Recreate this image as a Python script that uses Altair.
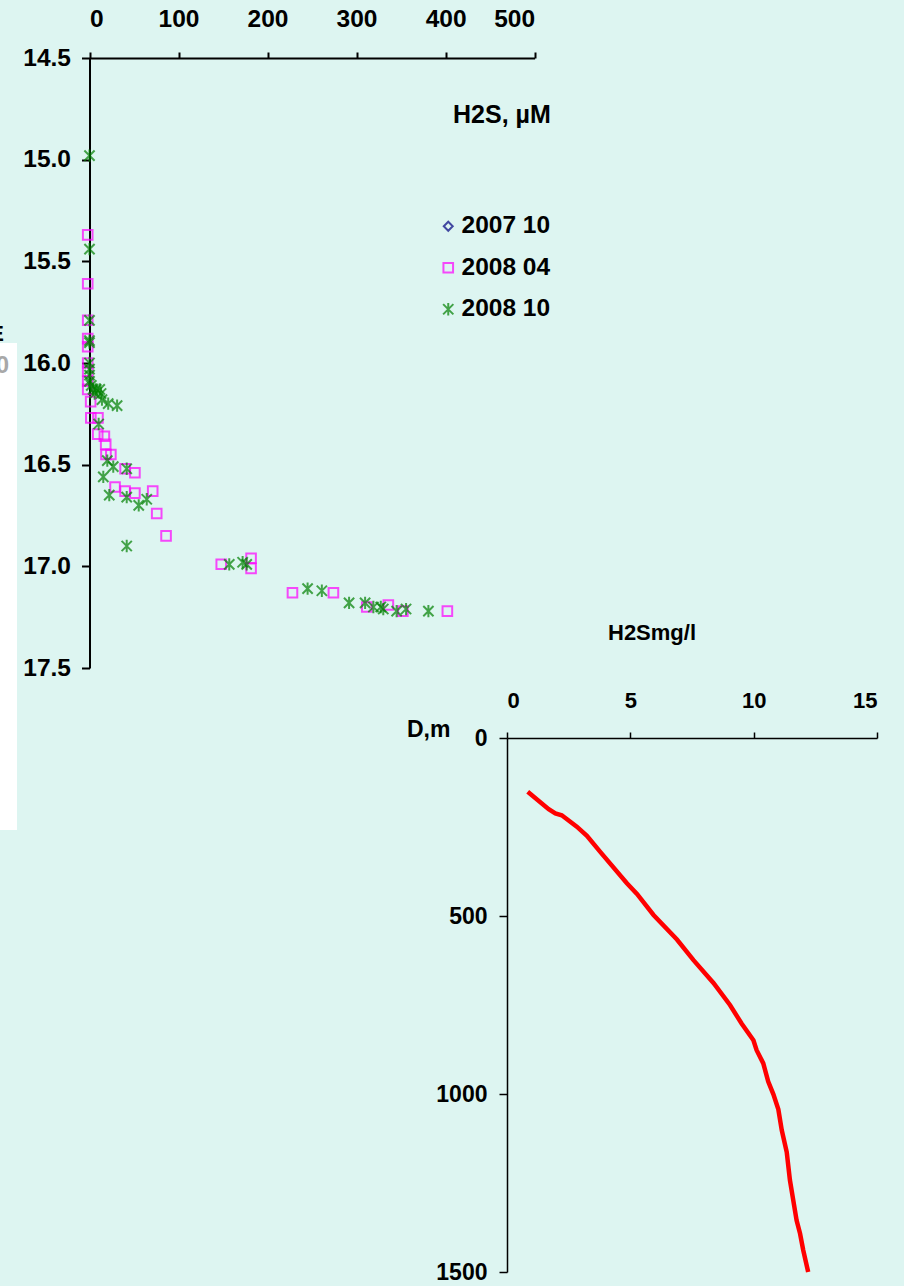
import altair as alt
import pandas as pd

# Legend series, colours, marker shapes and marker sizes
series_names = ["2007 10", "2008 04", "2008 10"]
series_colors = ["#000080", "#FF00FF", "#008000"]
ASTERISK = "M-1,-1L1,1M-1,1L1,-1M0,-1.2L0,1.2"
series_shapes = ["diamond", "square", ASTERISK]
series_sizes = [80, 105, 125]

# H2S (uM) against sigma-t style density, April 2008 cruise
h2s_0804 = [-2, -2, -2, -2, -2, -2, -2, -2, -2, 1.3, 1.5, 9.5, 9.2, 16.7, 18.2, 18.5,
            24, 40, 51, 28.7, 40, 51, 71, 75.5, 86, 148, 181.5, 181.5, 228, 274,
            311.5, 335.7, 352, 402]
dens_0804 = [15.37, 15.61, 15.79, 15.88, 15.92, 16.00, 16.04, 16.09, 16.13, 16.19,
             16.27, 16.27, 16.35, 16.36, 16.40, 16.45, 16.45, 16.52, 16.54, 16.61,
             16.63, 16.64, 16.63, 16.74, 16.85, 16.99, 16.96, 17.01, 17.13, 17.13,
             17.20, 17.19, 17.22, 17.22]

# October 2008 cruise
h2s_0810 = [0, 0, 0, 0, 0, 0, 0, 0, 0, 2, 4, 7.6, 11.5, 13, 5.8, 14, 21, 31, 10.3,
            20, 26.7, 41.8, 15.5, 22.2, 41.8, 64.3, 55.3, 41.8, 157, 172, 176.6,
            245, 261, 291.6, 309.6, 318.9, 327.2, 330, 345, 355.6, 380.7]
dens_0810 = [14.98, 15.44, 15.79, 15.89, 15.90, 16.00, 16.03, 16.06, 16.09, 16.11,
             16.13, 16.13, 16.13, 16.15, 16.15, 16.18, 16.20, 16.21, 16.30,
             16.48, 16.51, 16.52, 16.56, 16.65, 16.66, 16.67, 16.70, 16.90, 16.99,
             16.98, 16.99, 17.11, 17.12, 17.18, 17.18, 17.20, 17.20, 17.21, 17.22,
             17.21, 17.22]

# H2S (mg/l) depth profile
h2s_mgl = [0.84, 1.69, 1.96, 2.22, 2.83, 3.24, 3.78, 4.86, 5.27, 5.94, 6.89, 7.56,
           8.37, 9.04, 9.51, 9.99, 10.12, 10.39, 10.59, 10.80, 11.00, 11.14, 11.34,
           11.47, 11.74, 11.88, 12.01, 12.21]
depth_m = [151, 200, 212, 217, 249, 275, 320, 408, 438, 497, 566, 624, 688, 750, 802,
           849, 877, 914, 965, 1001, 1043, 1102, 1163, 1242, 1355, 1392, 1439, 1500]

scatter_df = pd.concat([
    pd.DataFrame({"h2s": h2s_0804, "dens": dens_0804, "series": "2008 04"}),
    pd.DataFrame({"h2s": h2s_0810, "dens": dens_0810, "series": "2008 10"}),
])
profile_df = pd.DataFrame({"mgl": h2s_mgl, "depth": depth_m})

FONT = "Liberation Sans, Arial, sans-serif"
W, H = 904, 1286

label_style = dict(labelFont=FONT, labelFontWeight="bold", labelColor="black",
                   domainColor="black", tickColor="black", grid=False, title=None)

scatter = alt.Chart(scatter_df).mark_point(filled=False, strokeWidth=2).encode(
    x=alt.X("h2s:Q",
            scale=alt.Scale(domain=[0, 500], range=[89.5, 534.6], nice=False, zero=False),
            axis=alt.Axis(orient="top", offset=-58, values=[0, 100, 200, 300, 400, 500],
                          format="d", labelFontSize=24.5, tickSize=6, labelPadding=21,
                          domainWidth=2, tickWidth=2, **label_style)),
    y=alt.Y("dens:Q",
            scale=alt.Scale(domain=[14.5, 17.5], range=[58, 668], nice=False, zero=False),
            axis=alt.Axis(orient="left", offset=-89.5,
                          values=[14.5, 15.0, 15.5, 16.0, 16.5, 17.0, 17.5],
                          format=".1f", labelFontSize=24.5, tickSize=8, labelPadding=11,
                          domainWidth=2, tickWidth=2, **label_style)),
    color=alt.Color("series:N",
                    scale=alt.Scale(domain=series_names, range=series_colors),
                    legend=alt.Legend(orient="none", legendX=436, legendY=214, title=None,
                                      labelFont=FONT, labelFontWeight="bold",
                                      labelFontSize=24.5, labelColor="black",
                                      symbolStrokeWidth=2, rowPadding=16.5,
                                      labelOffset=1)),
    shape=alt.Shape("series:N",
                    scale=alt.Scale(domain=series_names, range=series_shapes),
                    legend=None),
    size=alt.Size("series:N",
                  scale=alt.Scale(domain=series_names, range=series_sizes),
                  legend=None),
)

profile = alt.Chart(profile_df).mark_line(color="#FF0000", strokeWidth=4.5).encode(
    x=alt.X("mgl:Q",
            scale=alt.Scale(domain=[0, 15], range=[507, 877], nice=False, zero=False),
            axis=alt.Axis(orient="top", offset=-738, values=[0, 5, 10, 15], format="d",
                          labelFontSize=22, tickSize=6, labelPadding=20,
                          domainWidth=1.5, tickWidth=1.5, **label_style)),
    y=alt.Y("depth:Q",
            scale=alt.Scale(domain=[0, 1500], range=[738, 1272], nice=False, zero=False),
            axis=alt.Axis(orient="left", offset=-507, values=[0, 500, 1000, 1500],
                          format="d", labelFontSize=23, tickSize=8, labelPadding=12,
                          domainWidth=1.5, tickWidth=1.5, **label_style)),
    order=alt.Order("depth:Q"),
)

def label(text, x, y, size=22, align="left", color="black"):
    return alt.Chart(pd.DataFrame({"t": [text]})).mark_text(
        font=FONT, fontWeight="bold", fontSize=size, align=align, baseline="middle",
        color=color,
    ).encode(x=alt.value(x), y=alt.value(y), text="t:N")

# Edge of a neighbouring panel on the left
side_panel = alt.Chart(pd.DataFrame({"a": [0]})).mark_rect(color="white").encode(
    x=alt.value(0), x2=alt.value(17), y=alt.value(343), y2=alt.value(830)
)

chart = alt.layer(
    side_panel,
    label("0", 9, 366, size=24, align="right", color="#a8a8a8"),
    label("E", 4, 334, size=22, align="right"),
    profile,
    scatter,
    label("H2S, µM", 453, 115, size=25),
    label("H2Smg/l", 608, 633, size=22),
    label("D,m", 407, 730, size=23),
).resolve_scale(
    x="independent", y="independent"
).resolve_axis(
    x="independent", y="independent"
).properties(
    width=W, height=H, background="#DDF5F1", padding=0,
    autosize=alt.AutoSizeParams(type="none"),
).configure_view(stroke=None)

chart.save("out.html", embed_options={"renderer": "svg", "actions": False})
